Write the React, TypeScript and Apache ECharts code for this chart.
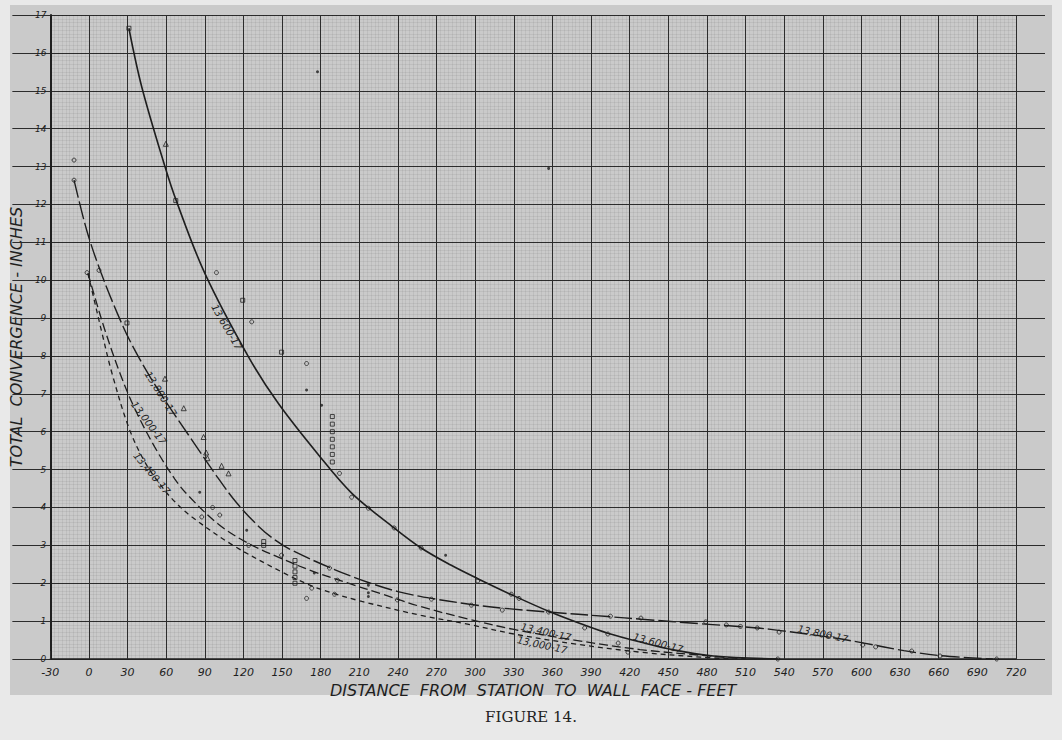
import React, { useEffect, useRef } from "react";
import * as echarts from "echarts";

// Curve readings (distance ft, convergence in)
const curve13600: [number, number][] = [
  [31, 16.65], [41, 15.1], [59, 13.0], [68, 12.08], [90, 10.18], [124, 7.97],
  [147, 6.75], [178, 5.4], [204, 4.38], [237, 3.46], [258, 2.93], [281, 2.48],
  [302, 2.12], [328, 1.7], [357, 1.26], [382, 0.93], [403, 0.68], [429, 0.44],
  [454, 0.24], [485, 0.08], [535, 0],
];
const curve13800: [number, number][] = [
  [-11.6, 12.64], [-1.6, 11.3], [9.3, 10.2], [21.7, 9.15], [31.8, 8.4], [46.5, 7.5],
  [60, 6.78], [80, 5.78], [97.7, 4.9], [114, 4.15], [131.8, 3.5], [145, 3.13],
  [157, 2.88], [188, 2.4], [217, 2.02], [240, 1.78], [266, 1.6], [297, 1.44],
  [322, 1.34], [357, 1.24], [403, 1.12], [429, 1.05], [475, 0.93], [519, 0.82],
  [537, 0.75], [578, 0.56], [602, 0.42], [633, 0.22], [661, 0.09], [702, 0],
];
const curve13000: [number, number][] = [
  [-0.8, 10.18], [4.6, 9.55], [12.4, 8.68], [24, 7.55], [35.7, 6.6], [51, 5.6],
  [66.7, 4.75], [77.5, 4.3], [100.8, 3.55], [124, 3.05], [149.6, 2.65], [175, 2.3],
  [201.5, 2.0], [227, 1.72], [258, 1.38], [294, 1.06], [330, 0.78], [377, 0.5],
  [428, 0.25], [475, 0.1], [510, 0],
];
const curve13400: [number, number][] = [
  [-0.8, 10.18], [4.6, 9.4], [10, 8.62], [17.8, 7.55], [31, 6.1], [43.4, 5.2],
  [56.6, 4.55], [66.7, 4.15], [80, 3.75], [111, 3.02], [149.6, 2.3], [173, 1.93],
  [191, 1.72], [212, 1.52], [258, 1.15], [294, 0.92], [330, 0.66], [377, 0.4],
  [428, 0.18], [475, 0.05], [500, 0],
];

// Observation markers
const pointsCircle: [number, number][] = [
  [-11.6, 13.17], [-11.6, 12.64], [7.8, 10.26], [-1.5, 10.2], [99, 10.2], [126.4, 8.9],
  [169, 7.8], [194.6, 4.9], [204, 4.27], [217, 3.98], [237, 3.46], [302, 2.06],
  [87.6, 3.75], [101.6, 3.8], [96, 4.0], [258, 2.93], [328, 1.71], [334, 1.6],
  [385, 0.82], [403, 0.66], [411, 0.42], [418.6, 0.18], [535, 0], [149.6, 2.74],
  [169, 1.6], [186.8, 2.4], [193, 2.08], [190.7, 1.71], [173, 1.87], [124, 3.0],
  [239.5, 1.56], [266, 1.58], [297, 1.42], [321, 1.29], [357, 1.24], [405, 1.13],
  [428.7, 1.08], [479, 0.98], [495, 0.9], [506, 0.86], [519, 0.82], [536, 0.71],
  [575, 0.6], [601, 0.37], [611, 0.32], [639, 0.21], [661, 0.08], [705, 0],
];
const pointsSquare: [number, number][] = [
  [31, 16.65], [67.4, 12.1], [119.4, 9.47], [149.6, 8.1], [29.5, 8.87],
  [189, 6.4], [189, 6.2], [189, 6.0], [189, 5.8], [189, 5.6], [189, 5.4], [189, 5.2],
  [160, 2.6], [160, 2.45], [160, 2.3], [160, 2.15], [160, 2.0], [135.7, 3.0], [135.7, 3.1],
];
const pointsTriangle: [number, number][] = [
  [59.7, 13.6], [59, 7.4], [73.6, 6.62], [89, 5.86], [91, 5.45], [92, 5.3],
  [103, 5.1], [108.4, 4.9],
];
const pointsDot: [number, number][] = [
  [177.5, 15.5], [169, 7.1], [180.7, 6.7], [277, 2.74], [357, 12.95], [86, 4.4],
  [122.5, 3.4], [175, 2.27], [217, 1.95], [217, 1.75], [217, 1.65],
];

const curveLabels = [
  { text: "13,600-17", x: 107, y: 8.76, angle: -60 },
  { text: "13,800-17", x: 55.8, y: 7.0, angle: -58 },
  { text: "13,000-17", x: 46.5, y: 6.23, angle: -53 },
  { text: "13,400-17", x: 48.8, y: 4.9, angle: -50 },
  { text: "13,400-17", x: 355, y: 0.71, angle: -13 },
  { text: "13,000-17", x: 352, y: 0.37, angle: -12 },
  { text: "13,600-17", x: 442, y: 0.42, angle: -15 },
  { text: "13,800-17", x: 570, y: 0.66, angle: -12 },
];

const INK = "#1e1e1e";
const HAND = "DejaVu Sans";

export default function App() {
  const ref = useRef<HTMLDivElement>(null);
  useEffect(() => {
    const chart = echarts.init(ref.current!, null, { renderer: "svg" });
    const paper = {
      id: "paper",
      type: "rect",
      z: -10,
      silent: true,
      shape: { x: 10, y: 5, width: 1042, height: 690 },
      style: { fill: "#cacaca" },
    };
    const lineSeries = (name: string, data: [number, number][], type: any, width = 1.4) => ({
      name,
      type: "line",
      data,
      smooth: 0.35,
      showSymbol: false,
      symbol: "none",
      lineStyle: { color: INK, width, type },
      z: 5,
    });
    const scatter = (data: [number, number][], symbol: string, size: number, filled = false) => ({
      type: "scatter",
      data,
      symbol,
      symbolSize: size,
      itemStyle: filled
        ? { color: INK }
        : { color: "transparent", borderColor: INK, borderWidth: 1 },
      z: 6,
    });
    const option: any = {
      animation: false,
      backgroundColor: "#e9e9e9",
      title: {
        text: "FIGURE 14.",
        left: "center",
        top: 704,
        textStyle: { fontFamily: "DejaVu Serif", fontWeight: "normal", fontSize: 15, color: "#222" },
      },
      grid: { left: 48, right: 46, top: 15, bottom: 81 },
      xAxis: [
        {
          type: "value",
          min: -30,
          max: 720,
          interval: 30,
          name: "DISTANCE  FROM  STATION  TO  WALL  FACE - FEET",
          nameLocation: "middle",
          nameGap: 17,
          nameTextStyle: { fontFamily: HAND, fontStyle: "italic", fontSize: 16, color: INK },
          axisLine: { show: true, onZero: false, lineStyle: { color: INK, width: 1.5 } },
          axisTick: { show: false },
          axisLabel: { fontFamily: HAND, fontStyle: "italic", fontSize: 11, color: INK, margin: 8 },
          splitLine: { show: true, lineStyle: { color: "#2c2c2c", width: 1 } },
          minorTick: { show: false, splitNumber: 10 },
          minorSplitLine: { show: true, lineStyle: { color: "rgba(0,0,0,0.055)", width: 1 } },
        },
        {
          type: "value",
          position: "top",
          min: -30,
          max: 720,
          interval: 30,
          axisLine: { show: false },
          axisLabel: { show: false },
          axisTick: { show: true, inside: false, length: 8, lineStyle: { color: "#2c2c2c" } },
          splitLine: { show: false },
        },
      ],
      yAxis: [
        {
          type: "value",
          min: 0,
          max: 17,
          interval: 1,
          name: "TOTAL  CONVERGENCE - INCHES",
          nameLocation: "middle",
          nameGap: 14,
          nameTextStyle: { fontFamily: HAND, fontStyle: "italic", fontSize: 16, color: INK },
          axisLine: { show: true, onZero: false, lineStyle: { color: INK, width: 2 } },
          axisTick: { show: true, length: 38, lineStyle: { color: "#2c2c2c" } },
          axisLabel: { fontFamily: HAND, fontStyle: "italic", fontSize: 9, color: INK, margin: 4 },
          splitLine: { show: true, lineStyle: { color: "#2c2c2c", width: 1 } },
          minorTick: { show: false, splitNumber: 10 },
          minorSplitLine: { show: true, lineStyle: { color: "rgba(0,0,0,0.055)", width: 1 } },
        },
        {
          type: "value",
          position: "right",
          min: 0,
          max: 17,
          interval: 1,
          axisLine: { show: false, onZero: false },
          axisLabel: { show: false },
          axisTick: { show: true, length: 29, lineStyle: { color: "#2c2c2c" } },
          splitLine: { show: false },
        },
      ],
      graphic: [paper],
      series: [
        lineSeries("13,600-17", curve13600, "solid", 1.6),
        lineSeries("13,800-17", curve13800, [18, 4], 1.4),
        lineSeries("13,000-17", curve13000, [9, 4], 1.3),
        lineSeries("13,400-17", curve13400, [5, 4], 1.3),
        scatter(pointsCircle, "circle", 4),
        scatter(pointsSquare, "rect", 4),
        scatter(pointsTriangle, "triangle", 5),
        scatter(pointsDot, "circle", 3, true),
      ],
    };
    chart.setOption(option);
    const labelEls = curveLabels.map((l, i) => {
      const p = chart.convertToPixel({ xAxisIndex: 0, yAxisIndex: 0 }, [l.x, l.y]) as number[];
      return {
        id: "lbl" + i,
        type: "text",
        x: p[0],
        y: p[1],
        rotation: (l.angle * Math.PI) / 180,
        z: 20,
        style: {
          text: l.text,
          fontFamily: HAND,
          fontStyle: "italic",
          fontSize: 10,
          fill: INK,
          align: "center",
          verticalAlign: "middle",
        },
      };
    });
    chart.setOption({ graphic: [paper, ...labelEls] });
    return () => chart.dispose();
  }, []);
  return (
    <div
      ref={ref}
      style={{ position: "absolute", left: 0, top: 0, width: 1062, height: 740 }}
    />
  );
}
